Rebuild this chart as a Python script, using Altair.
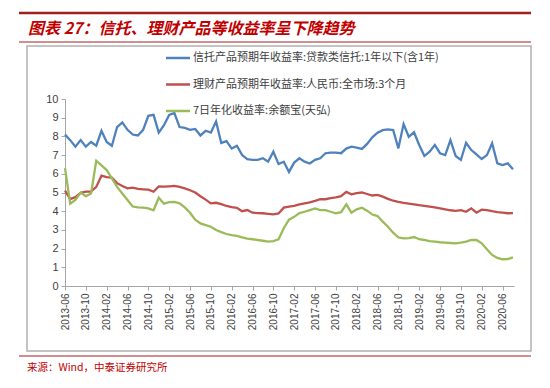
import altair as alt
import pandas as pd

# ---- data -------------------------------------------------------------
months = pd.date_range("2013-06-01", periods=87, freq="MS").strftime("%Y-%m").tolist()
tick_idx = list(range(0, 85, 4))  # 2013-06 ... 2020-06
tick_months = [months[i] for i in tick_idx]

trust = [8.1, 7.8, 7.45, 7.8, 7.45, 7.7, 7.5, 8.3, 7.7, 7.5,
         8.5, 8.75, 8.35, 8.1, 8.05, 8.35, 9.1, 9.15, 8.2, 8.6,
         9.15, 9.25, 8.5, 8.45, 8.35, 8.4, 8.05, 8.3, 8.2, 8.8,
         7.65, 7.75, 7.35, 7.5, 7.0, 6.78, 6.74, 6.74, 6.83, 6.65,
         7.18, 6.52, 6.65, 6.1, 6.6, 6.83, 6.65, 6.55, 6.75, 6.83,
         7.1, 7.13, 7.13, 7.1, 7.35, 7.45, 7.4, 7.33, 7.6, 7.95,
         8.2, 8.33, 8.38, 8.34, 7.36, 8.66, 7.98, 8.22, 7.54, 6.95,
         7.18, 7.54, 7.1, 7.0, 7.8, 6.95, 6.74, 7.66, 7.27, 7.04,
         6.79, 7.0, 7.63, 6.56, 6.47, 6.56, 6.24]

wealth = [5.1, 4.65, 4.75, 4.98, 5.05, 5.05, 5.3, 5.9, 5.82, 5.8,
          5.5, 5.35, 5.22, 5.26, 5.19, 5.17, 5.15, 5.04, 5.33, 5.31,
          5.33, 5.35, 5.3, 5.22, 5.12, 5.0, 4.8, 4.62, 4.42, 4.45,
          4.38, 4.28, 4.22, 4.18, 4.0, 4.06, 3.92, 3.9, 3.89, 3.86,
          3.83, 3.88, 4.19, 4.24, 4.28, 4.36, 4.42, 4.47, 4.55, 4.64,
          4.64, 4.7, 4.74, 4.8, 5.03, 4.9, 4.97, 5.0, 4.92, 4.84,
          4.87, 4.78, 4.66, 4.56, 4.5, 4.45, 4.41, 4.37, 4.32, 4.28,
          4.24, 4.2, 4.15, 4.1, 4.05, 4.02, 4.06, 3.97, 4.15, 3.92,
          4.08, 4.06, 4.0, 3.95, 3.92, 3.89, 3.9]

yuebao = [6.3, 4.4, 4.6, 5.0, 4.8, 4.95, 6.7, 6.45, 6.2, 5.75,
          5.3, 4.95, 4.6, 4.25, 4.2, 4.19, 4.15, 4.05, 4.72, 4.4,
          4.48, 4.5, 4.42, 4.2, 3.92, 3.55, 3.35, 3.26, 3.17, 2.99,
          2.88, 2.78, 2.72, 2.68, 2.6, 2.53, 2.5, 2.46, 2.42, 2.37,
          2.4, 2.5, 3.09, 3.55, 3.7, 3.9, 3.97, 4.06, 4.15, 4.06,
          4.06, 3.97, 3.89, 3.95, 4.37, 3.92, 4.1, 4.19, 4.03, 3.82,
          3.74, 3.44, 3.17, 2.85, 2.6, 2.55, 2.56, 2.62, 2.5, 2.46,
          2.4, 2.37, 2.34, 2.32, 2.3, 2.28, 2.32, 2.37, 2.46, 2.46,
          2.28, 1.96, 1.66, 1.5, 1.43, 1.44, 1.53]

names = ["信托产品预期年收益率:贷款类信托:1年以下(含1年)",
         "理财产品预期年收益率:人民币:全市场:3个月",
         "7日年化收益率:余额宝(天弘)"]
colors = ["#4F81BD", "#C0504D", "#9BBB59"]

title_text = "图表 27：信托、理财产品等收益率呈下降趋势"
source_text = "来源：Wind，中泰证券研究所"

rows = []
for name, vals in zip(names, [trust, wealth, yuebao]):
    for i, (m, v) in enumerate(zip(months, vals)):
        rows.append({"idx": i, "month": m, "series": name, "value": v})
df = pd.DataFrame(rows)

one = pd.DataFrame({"title": [title_text], "source": [source_text]})
frame_df = pd.DataFrame({"k": ["frame"]})
leg = pd.DataFrame({"series": names})

CJK = "Noto Sans CJK SC"
DARK_RED = "#A31F1F"
BOX = "#B0B0B0"

label_expr = "[" + ",".join("'%s'" % m for m in tick_months) + "][round(datum.value/4)]"

# ---- decorations ------------------------------------------------------
def hrule(x1, x2, y, color, w):
    return alt.Chart(one).mark_rule(color=color, strokeWidth=w).encode(
        x=alt.value(x1), x2=alt.value(x2), y=alt.value(y))

# grey frame round the chart body (stroke given through encodings)
frame = alt.Chart(frame_df).mark_rect().encode(
    x=alt.value(-38), x2=alt.value(466), y=alt.value(-53), y2=alt.value(252),
    fill=alt.value("#FFFFFF"), fillOpacity=alt.value(0),
    stroke=alt.value(BOX), strokeWidth=alt.value(1.5), opacity=alt.value(1))

top_bar = hrule(-46, 466, -86, DARK_RED, 2.5)
title_rule = hrule(-46, 466, -57, DARK_RED, 1)
bottom_rule = hrule(-46, 466, 257, DARK_RED, 1.2)

title = alt.Chart(one).mark_text(
    align="left", baseline="middle", font=CJK, fontSize=16, fontWeight="bold",
    fontStyle="italic", color="#C00000").encode(
    x=alt.value(-37), y=alt.value(-70), text="title:N")

source = alt.Chart(one).mark_text(
    align="left", baseline="middle", font=CJK, fontSize=10.5, color="#C00000").encode(
    x=alt.value(-38), y=alt.value(269), text="source:N")

# ---- main lines -------------------------------------------------------
color_scale = alt.Scale(domain=names, range=colors)

lines = alt.Chart(df).mark_line(strokeWidth=2.3).encode(
    x=alt.X("idx:Q", scale=alt.Scale(domain=[0, 86.2], nice=False, zero=False),
            axis=alt.Axis(values=tick_idx, labelExpr=label_expr, labelAngle=270,
                          title=None, labelFontSize=10, labelColor="#404040",
                          labelFont="Liberation Sans", tickSize=4, tickColor="#A6A6A6",
                          domainColor="#A6A6A6", labelPadding=3, grid=False,
                          labelOverlap=False, labelBound=False, labelFlush=False,
                          labelAlign="right", labelBaseline="middle")),
    y=alt.Y("value:Q", scale=alt.Scale(domain=[0, 10]),
            axis=alt.Axis(values=list(range(11)), title=None, grid=False,
                          labelFontSize=11, labelColor="#404040", labelFont="Liberation Sans",
                          tickSize=4, tickColor="#A6A6A6", domainColor="#A6A6A6",
                          labelPadding=3)),
    color=alt.Color("series:N", scale=color_scale, legend=None),
    detail="series:N",
)

# ---- hand-placed legend --------------------------------------------------
leg_y = alt.Y("series:N", sort=names,
              scale=alt.Scale(type="point", padding=0, domain=names, range=[-41, 12]),
              axis=None)
leg_lines = alt.Chart(leg).mark_rule(strokeWidth=2.5).encode(
    x=alt.value(101), x2=alt.value(125), y=leg_y,
    color=alt.Color("series:N", scale=color_scale, legend=None))
leg_text = alt.Chart(leg).mark_text(
    align="left", baseline="middle", font=CJK, fontSize=11, color="#404040").encode(
    x=alt.value(128), y=leg_y, text="series:N")
legend = alt.layer(leg_lines, leg_text)

chart = alt.layer(frame, top_bar, title_rule, bottom_rule, title, source, lines, legend).resolve_scale(
    y="independent"
).properties(
    width=449, height=187,
    autosize=alt.AutoSizeParams(type="none"),
    padding={"left": 57, "top": 91, "right": 26, "bottom": 94},
).configure_view(strokeWidth=0)

chart.save("out.html", embed_options={"renderer": "svg", "actions": False})
